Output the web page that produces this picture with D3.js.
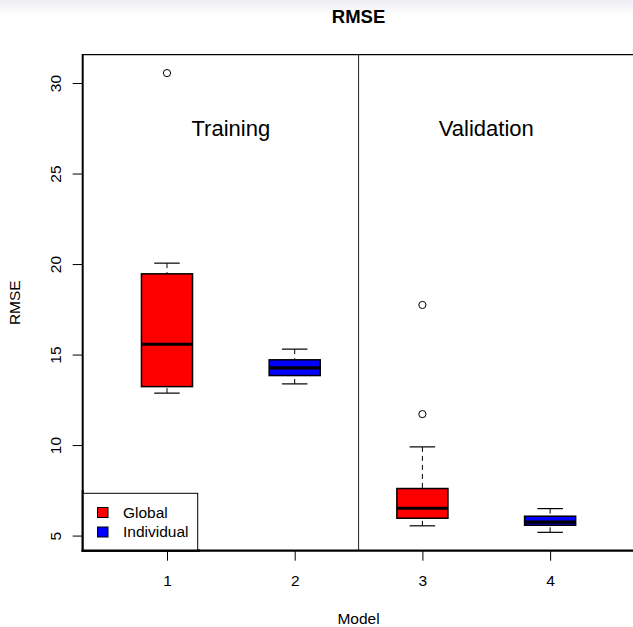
<!DOCTYPE html>
<html>
<head>
<meta charset="utf-8">
<script src="https://cdn.jsdelivr.net/npm/d3@7"></script>
<style>
  html, body { margin: 0; padding: 0; background: #fff; }
  svg { display: block; font-family: "Liberation Sans", Arial, Helvetica, sans-serif; }
</style>
</head>
<body>
<svg id="chart" width="633" height="627"></svg>
<script>
// Boxplot summary per model (1, 2 = training; 3, 4 = validation)
const models        = [1, 2, 3, 4];
const groups        = ["Global", "Individual", "Global", "Individual"];
const whiskerLow    = [12.87, 13.38, 5.54, 5.18];
const quartile1     = [13.23, 13.84, 5.96, 5.57];
const medians       = [15.57, 14.27, 6.51, 5.74];
const quartile3     = [19.46, 14.71, 7.60, 6.07];
const whiskerHigh   = [20.05, 15.30, 9.90, 6.49];
const outliers      = [[30.55], [], [17.74, 11.71], []];

const yTicks        = [5, 10, 15, 20, 25, 30];
const legendLabels  = ["Global", "Individual"];
const legendColors  = ["#ff0000", "#0000ff"];
const panelLabels   = ["Training", "Validation"];
const panelCenters  = [1.5, 3.5];
const panelLabelY   = 27.5;
const dividerAt     = 2.5;

const colorOf = d3.scaleOrdinal().domain(legendLabels).range(legendColors);

const svg = d3.select("#chart");
const W = 633, H = 627;

// soft band along the top edge
const defs = svg.append("defs");
const grad = defs.append("linearGradient").attr("id", "topband")
  .attr("x1", 0).attr("y1", 0).attr("x2", 0).attr("y2", 1);
grad.append("stop").attr("offset", 0).attr("stop-color", "#eeeef4");
grad.append("stop").attr("offset", 1).attr("stop-color", "#ffffff");
svg.append("rect").attr("x", 0).attr("y", 0).attr("width", W).attr("height", 16)
  .attr("fill", "url(#topband)");

// plot region
const pLeft = 82.7, pRight = 634.4, pTop = 54.7, pBottom = 550.7;

// x range padded like R: [0.5, n + 0.5] extended by 4%
const xlo = 0.5, xhi = models.length + 0.5;
const xpad = (xhi - xlo) * 0.04;
const x = d3.scaleLinear().domain([xlo - xpad, xhi + xpad]).range([pLeft, pRight]);

const allVals = whiskerLow.concat(whiskerHigh, outliers.flat());
const ymin = d3.min(allVals), ymax = d3.max(allVals);
const ypad = (ymax - ymin) * 0.04;
const y = d3.scaleLinear().domain([ymin - ypad, ymax + ypad]).range([pBottom, pTop]);

const boxHalf = 0.2, capHalf = 0.1;

// frame
svg.append("line").attr("x1", pLeft).attr("x2", W + 2).attr("y1", pTop).attr("y2", pTop)
  .attr("stroke", "#000").attr("stroke-width", 1.2);
svg.append("line").attr("x1", pRight).attr("x2", pRight).attr("y1", pTop).attr("y2", pBottom)
  .attr("stroke", "#000").attr("stroke-width", 1.2);

// divider between training and validation
svg.append("line")
  .attr("x1", x(dividerAt)).attr("x2", x(dividerAt))
  .attr("y1", pTop).attr("y2", pBottom)
  .attr("stroke", "#333").attr("stroke-width", 1.1);

// panel labels
svg.selectAll("text.panel").data(panelLabels).join("text")
  .attr("class", "panel")
  .attr("x", (d, i) => x(panelCenters[i]))
  .attr("y", y(panelLabelY))
  .attr("dy", "0.35em")
  .attr("text-anchor", "middle")
  .attr("font-size", 22)
  .attr("fill", "#000")
  .text(d => d);

// boxes
const boxes = svg.append("g").selectAll("g").data(models).join("g");

boxes.append("line") // lower whisker
  .attr("x1", d => x(d)).attr("x2", d => x(d))
  .attr("y1", (d, i) => y(whiskerLow[i])).attr("y2", (d, i) => y(quartile1[i]))
  .attr("stroke", "#000").attr("stroke-width", 1).attr("stroke-dasharray", "5,4");
boxes.append("line") // upper whisker
  .attr("x1", d => x(d)).attr("x2", d => x(d))
  .attr("y1", (d, i) => y(whiskerHigh[i])).attr("y2", (d, i) => y(quartile3[i]))
  .attr("stroke", "#000").attr("stroke-width", 1).attr("stroke-dasharray", "5,4");
boxes.append("line") // lower cap
  .attr("x1", d => x(d - capHalf)).attr("x2", d => x(d + capHalf))
  .attr("y1", (d, i) => y(whiskerLow[i])).attr("y2", (d, i) => y(whiskerLow[i]))
  .attr("stroke", "#000").attr("stroke-width", 1.2);
boxes.append("line") // upper cap
  .attr("x1", d => x(d - capHalf)).attr("x2", d => x(d + capHalf))
  .attr("y1", (d, i) => y(whiskerHigh[i])).attr("y2", (d, i) => y(whiskerHigh[i]))
  .attr("stroke", "#000").attr("stroke-width", 1.2);
boxes.append("rect")
  .attr("x", d => x(d - boxHalf))
  .attr("width", d => x(d + boxHalf) - x(d - boxHalf))
  .attr("y", (d, i) => y(quartile3[i]))
  .attr("height", (d, i) => y(quartile1[i]) - y(quartile3[i]))
  .attr("fill", (d, i) => colorOf(groups[i]))
  .attr("stroke", "#000").attr("stroke-width", 1.5);
boxes.append("line") // median
  .attr("x1", d => x(d - boxHalf)).attr("x2", d => x(d + boxHalf))
  .attr("y1", (d, i) => y(medians[i])).attr("y2", (d, i) => y(medians[i]))
  .attr("stroke", "#000").attr("stroke-width", 3.2);
boxes.each(function(d, i) {
  d3.select(this).selectAll("circle").data(outliers[i]).join("circle")
    .attr("cx", x(d)).attr("cy", v => y(v)).attr("r", 3.6)
    .attr("fill", "none").attr("stroke", "#000").attr("stroke-width", 1);
});

// y axis
const yAxis = svg.append("g").attr("transform", `translate(${pLeft},0)`)
  .call(d3.axisLeft(y).tickValues(yTicks).tickSize(10).tickPadding(0).tickFormat(d3.format("d")));
yAxis.select(".domain").remove();
yAxis.selectAll(".tick line").attr("stroke", "#000").attr("stroke-width", 1);
yAxis.selectAll(".tick text")
  .attr("x", 0).attr("y", 0).attr("dy", 0)
  .attr("transform", "translate(-21.5,0) rotate(-90)")
  .attr("text-anchor", "middle")
  .attr("font-size", 15.5).attr("font-family", null).attr("fill", "#000");

// x axis
const xAxis = svg.append("g").attr("transform", `translate(0,${pBottom})`)
  .call(d3.axisBottom(x).tickValues(models).tickSize(10).tickPadding(0).tickFormat(d3.format("d")));
xAxis.select(".domain").remove();
xAxis.selectAll(".tick line").attr("stroke", "#000").attr("stroke-width", 1);
xAxis.selectAll(".tick text")
  .attr("y", 35.5).attr("dy", 0)
  .attr("font-size", 15.5).attr("font-family", null).attr("fill", "#000");

// left and bottom frame lines (heavier, axis drawn over the box)
svg.append("line").attr("x1", pLeft).attr("x2", pLeft).attr("y1", pTop - 0.6).attr("y2", pBottom + 1)
  .attr("stroke", "#000").attr("stroke-width", 2);
svg.append("line").attr("x1", pLeft - 1).attr("x2", W + 2).attr("y1", pBottom).attr("y2", pBottom)
  .attr("stroke", "#000").attr("stroke-width", 2.2);

// legend
const legend = svg.append("g");
legend.append("rect")
  .attr("x", pLeft).attr("y", 493.3)
  .attr("width", 197.7 - pLeft).attr("height", pBottom - 493.3)
  .attr("fill", "#fff").attr("stroke", "#000").attr("stroke-width", 1);
const items = legend.selectAll("g.item").data(legendLabels).join("g").attr("class", "item")
  .attr("transform", (d, i) => `translate(0,${i * 19.5})`);
items.append("rect")
  .attr("x", 97.5).attr("y", 507.5).attr("width", 10.5).attr("height", 10)
  .attr("fill", d => colorOf(d)).attr("stroke", "#000").attr("stroke-width", 1);
items.append("text")
  .attr("x", 123).attr("y", 517.6)
  .attr("font-size", 15.5).attr("fill", "#000")
  .text(d => d);

// heavy frame lines again over the legend box edges
svg.append("line").attr("x1", pLeft).attr("x2", pLeft).attr("y1", 490).attr("y2", pBottom + 1)
  .attr("stroke", "#000").attr("stroke-width", 2);
svg.append("line").attr("x1", pLeft - 1).attr("x2", 200).attr("y1", pBottom).attr("y2", pBottom)
  .attr("stroke", "#000").attr("stroke-width", 2.2);

// titles
svg.append("text")
  .attr("x", (pLeft + pRight) / 2).attr("y", 22.7)
  .attr("text-anchor", "middle").attr("font-weight", "bold").attr("font-size", 18.5)
  .text("RMSE");
svg.append("text")
  .attr("x", (pLeft + pRight) / 2).attr("y", 624)
  .attr("text-anchor", "middle").attr("font-size", 15.5)
  .text("Model");
svg.append("text")
  .attr("transform", `translate(20,${(pTop + pBottom) / 2}) rotate(-90)`)
  .attr("text-anchor", "middle").attr("font-size", 15.5)
  .text("RMSE");
</script>
</body>
</html>
